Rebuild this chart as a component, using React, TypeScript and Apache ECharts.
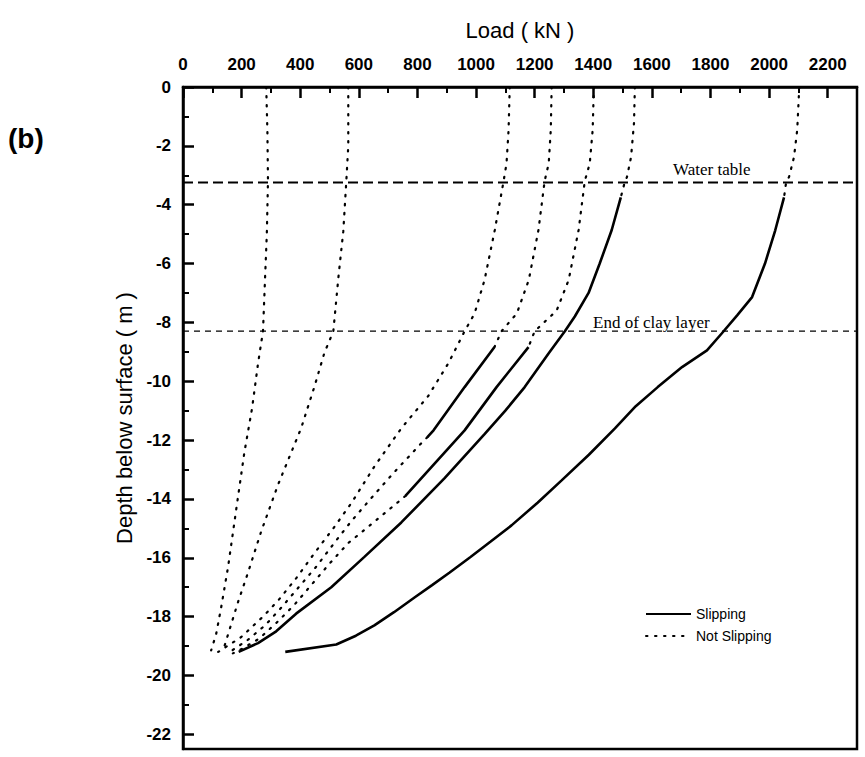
import React, { useEffect, useRef } from "react";
import * as echarts from "echarts";

// [load kN, depth m]
const curveA: number[][] = [[284, 0], [288, -1.5], [290, -3.2], [286, -5], [280, -6.5], [273, -8.3], [256, -9.4], [236, -10.9], [209, -12.45], [181, -14.4], [154, -16.3], [130, -17.7], [113, -18.6], [96, -19.15]];
const curveB: number[][] = [[564, 0], [564, -2], [557, -3.25], [547, -4.9], [530, -6.5], [513, -8.3], [482, -9.05], [448, -10.2], [403, -11.6], [325, -13.5], [267, -15.1], [222, -16.5], [188, -17.5], [157, -18.5], [137, -19.15]];
const curve1: number[][] = [[1115, 0], [1111, -1.46], [1104, -2.6], [1094, -3.2], [1064, -4.86], [1029, -6.56], [995, -7.7], [961, -8.3], [905, -9.4], [837, -10.5], [745, -11.6], [653, -12.9], [574, -14.15], [513, -15], [448, -15.85], [386, -16.7], [325, -17.45], [273, -18], [198, -18.7], [120, -19.2]];
const curve2Top: number[][] = [[1258, 0], [1255, -1.46], [1248, -2.6], [1234, -3.2], [1213, -4.86], [1180, -6.56], [1139, -7.7], [1087, -8.3], [1063, -8.84]];
const curve2Slip: number[][] = [[1063, -8.84], [961, -10.2], [855, -11.67], [834, -11.9]];
const curve2Low: number[][] = [[834, -11.9], [814, -12.1], [720, -13.1], [640, -14], [575, -14.75], [516, -15.5], [455, -16.3], [395, -17], [335, -17.7], [280, -18.3], [220, -18.8], [160, -19.2]];
const curve3Top: number[][] = [[1402, 0], [1398, -1.46], [1388, -2.6], [1371, -3.2], [1350, -4.86], [1316, -6.56], [1275, -7.6], [1200, -8.3], [1179, -8.84]];
const curve3Slip: number[][] = [[1179, -8.84], [1070, -10.2], [961, -11.67], [759, -13.9]];
const curve3Low: number[][] = [[759, -13.9], [735, -14.1], [650, -14.8], [564, -15.5], [500, -16.2], [440, -16.9], [380, -17.6], [320, -18.2], [260, -18.75], [200, -19.1], [170, -19.25]];
const curve4Top: number[][] = [[1542, 0], [1539, -1.23], [1529, -2.38], [1515, -3.06], [1507, -3.25], [1494, -3.75]];
const curve4Slip: number[][] = [[1494, -3.75], [1463, -4.86], [1422, -6], [1384, -7], [1337, -7.8], [1303, -8.3], [1248, -9.05], [1166, -10.2], [1100, -11], [1029, -11.8], [892, -13.3], [745, -14.8], [619, -15.97], [506, -17], [386, -17.9], [318, -18.5], [256, -18.9], [190, -19.2]];
const curve5Top: number[][] = [[2103, 0], [2096, -1.46], [2085, -2.38], [2068, -3.06], [2058, -3.25], [2051, -3.75]];
const curve5Slip: number[][] = [[2051, -3.75], [2021, -4.87], [1986, -6], [1942, -7.14], [1891, -7.76], [1839, -8.37], [1788, -8.95], [1703, -9.52], [1620, -10.2], [1545, -10.85], [1474, -11.6], [1385, -12.5], [1292, -13.37], [1210, -14.13], [1121, -14.9], [1050, -15.45], [980, -15.98], [910, -16.5], [850, -16.93], [790, -17.35], [720, -17.85], [653, -18.3], [590, -18.65], [523, -18.95], [349, -19.2]];

const waterTableDepth = -3.25;
const clayEndDepth = -8.3;
const loadRange = [0, 2300];
const depthRange = [-22.5, 0];
const loadMajor = [0, 200, 400, 600, 800, 1000, 1200, 1400, 1600, 1800, 2000, 2200];
const loadMinor = [100, 300, 500, 700, 900, 1100, 1300, 1500, 1700, 1900, 2100];
const depthMajor = [0, -2, -4, -6, -8, -10, -12, -14, -16, -18, -20, -22];
const depthMinor = [-1, -3, -5, -7, -9, -11, -13, -15, -17, -19, -21];

const FONT = '"Liberation Sans", Arial, sans-serif';
const SERIF = '"Liberation Serif", "Times New Roman", serif';

export default function App() {
  const ref = useRef<HTMLDivElement>(null);
  useEffect(() => {
    if (!ref.current) return;
    const chart = echarts.init(ref.current, undefined, { renderer: "svg" });
    const dotted = (data: number[][]) => ({
      type: "line", name: "Not Slipping", data, symbol: "none", showSymbol: false, silent: true,
      lineStyle: { color: "#000", width: 2.2, type: [1.5, 7.5], cap: "round" },
      itemStyle: { color: "#000" },
    });
    const solid = (data: number[][]) => ({
      type: "line", name: "Slipping", data, symbol: "none", showSymbol: false, silent: true,
      lineStyle: { color: "#000", width: 2.6, type: "solid" },
      itemStyle: { color: "#000" },
    });
    const hline = (name: string, d: number, width: number, dash: number[]) => ({
      type: "line", name, data: [[loadRange[0], d], [loadRange[1], d]], symbol: "none", silent: true,
      lineStyle: { color: "#000", width, type: dash },
    });
    chart.setOption({
      animation: false,
      backgroundColor: "#fff",
      grid: { left: 183, top: 87, right: 8, bottom: 8, show: true, borderColor: "#000", borderWidth: 2.5, backgroundColor: "transparent" },
      legend: {
        data: ["Slipping", "Not Slipping"], orient: "vertical", left: 640, top: 602,
        itemWidth: 45, itemHeight: 14, itemGap: 8,
        itemStyle: { opacity: 0 },
        textStyle: { fontFamily: FONT, fontSize: 14, color: "#000" },
      },
      xAxis: [
        {
          type: "value", position: "top", min: loadRange[0], max: loadRange[1],
          axisLine: { show: true, onZero: false, lineStyle: { color: "#000", width: 2.5 } },
          axisTick: { show: true, inside: true, length: 6, customValues: loadMinor, lineStyle: { color: "#000", width: 2 } },
          axisLabel: { show: false }, splitLine: { show: false },
        },
        {
          type: "value", position: "top", min: loadRange[0], max: loadRange[1],
          name: "Load ( kN )", nameLocation: "middle", nameGap: 46,
          nameTextStyle: { fontFamily: FONT, fontSize: 22, color: "#000" },
          axisLine: { show: false, onZero: false },
          axisTick: { show: true, inside: true, length: 11, customValues: loadMajor, lineStyle: { color: "#000", width: 2.5 } },
          axisLabel: {
            margin: 14, fontFamily: FONT, fontSize: 17, fontWeight: "bold", color: "#000",
            customValues: loadMajor, formatter: (v: number) => String(v),
          },
          splitLine: { show: false },
        },
      ],
      yAxis: [
        {
          type: "value", position: "left", min: depthRange[0], max: depthRange[1],
          axisLine: { show: true, onZero: false, lineStyle: { color: "#000", width: 2.5 } },
          axisTick: { show: true, inside: true, length: 6, customValues: depthMinor, lineStyle: { color: "#000", width: 2 } },
          axisLabel: { show: false }, splitLine: { show: false },
        },
        {
          type: "value", position: "left", min: depthRange[0], max: depthRange[1],
          name: "Depth below surface ( m )", nameLocation: "middle", nameGap: 42,
          nameTextStyle: { fontFamily: FONT, fontSize: 22, color: "#000" },
          axisLine: { show: false, onZero: false },
          axisTick: { show: true, inside: true, length: 11, customValues: depthMajor, lineStyle: { color: "#000", width: 2.5 } },
          axisLabel: {
            margin: 12, fontFamily: FONT, fontSize: 17, fontWeight: "bold", color: "#000",
            customValues: depthMajor, formatter: (v: number) => String(v),
          },
          splitLine: { show: false },
        },
      ],
      series: [
        hline("water", waterTableDepth, 2, [10, 5]),
        hline("clay", clayEndDepth, 1.2, [6, 5]),
        dotted(curveA), dotted(curveB), dotted(curve1),
        dotted(curve2Top), solid(curve2Slip), dotted(curve2Low),
        dotted(curve3Top), solid(curve3Slip), dotted(curve3Low),
        dotted(curve4Top), solid(curve4Slip),
        dotted(curve5Top), solid(curve5Slip),
      ],
      graphic: [
        { type: "text", left: 8, top: 124, style: { text: "(b)", font: `bold 28px ${FONT}`, fill: "#000" } },
        { type: "text", x: 673, y: 169, style: { text: "Water table", font: `17px ${SERIF}`, fill: "#000", verticalAlign: "middle" } },
        { type: "text", x: 593, y: 322, style: { text: "End of clay layer", font: `17px ${SERIF}`, fill: "#000", verticalAlign: "middle" } },
      ],
    });
    return () => chart.dispose();
  }, []);
  return <div ref={ref} style={{ position: "fixed", left: 0, top: 0, width: 865, height: 757 }} />;
}
